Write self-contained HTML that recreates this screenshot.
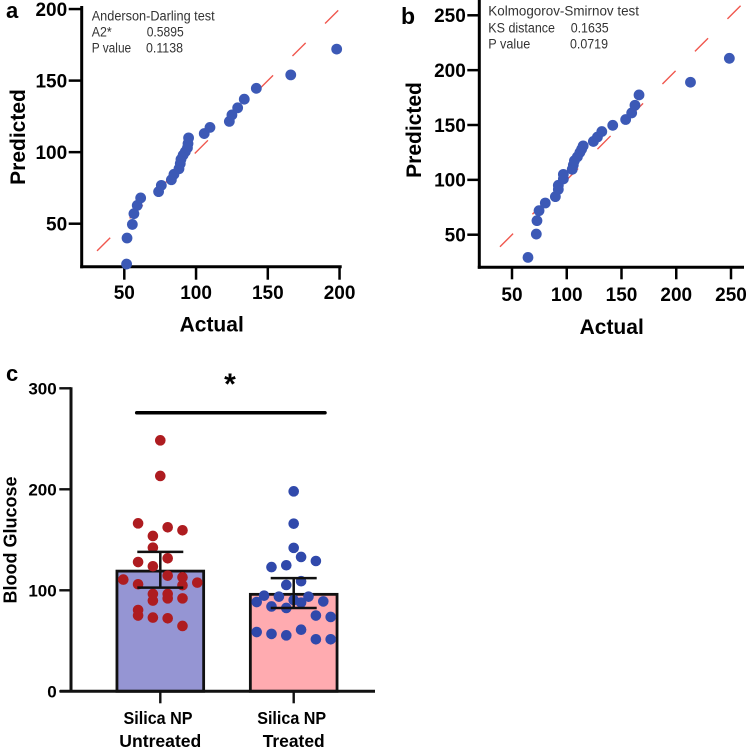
<!DOCTYPE html>
<html>
<head>
<meta charset="utf-8">
<title>Predicted vs actual plots and blood glucose bars</title>
<style>
html,body{margin:0;padding:0;background:#fff;width:749px;height:750px;overflow:hidden}
svg{display:block}
text{font-family:"Liberation Sans",sans-serif;fill:#000}
.b{font-weight:bold}
.note{font-size:13.5px;fill:#333}
</style>
</head>
<body>
<svg id="fig" xmlns="http://www.w3.org/2000/svg" width="749" height="750" viewBox="0 0 749 750">
  <text class="b" x="6" y="18" font-size="22">a</text>
  <text class="b" x="401" y="24" font-size="23">b</text>
  <text class="b" x="6" y="381" font-size="22">c</text>

  <g>
    <text class="note" x="91.7" y="20.7" textLength="123" lengthAdjust="spacingAndGlyphs">Anderson-Darling test</text>
    <text class="note" x="91.7" y="36.7" textLength="20" lengthAdjust="spacingAndGlyphs">A2*</text>
    <text class="note" x="146.7" y="36.7" textLength="37" lengthAdjust="spacingAndGlyphs">0.5895</text>
    <text class="note" x="91.7" y="52.7" textLength="39.5" lengthAdjust="spacingAndGlyphs">P value</text>
    <text class="note" x="146" y="52.7" textLength="37" lengthAdjust="spacingAndGlyphs">0.1138</text>
  </g>
  <g>
    <text class="note" x="488.3" y="15.3" textLength="150.7" lengthAdjust="spacingAndGlyphs">Kolmogorov-Smirnov test</text>
    <text class="note" x="488.3" y="32.3" textLength="66.7" lengthAdjust="spacingAndGlyphs">KS distance</text>
    <text class="note" x="570.7" y="32.3" textLength="38" lengthAdjust="spacingAndGlyphs">0.1635</text>
    <text class="note" x="488.3" y="48.7" textLength="42" lengthAdjust="spacingAndGlyphs">P value</text>
    <text class="note" x="570" y="48.7" textLength="38" lengthAdjust="spacingAndGlyphs">0.0719</text>
  </g>

  <text class="b" x="211.7" y="331.7" font-size="21" text-anchor="middle">Actual</text>
  <text class="b" transform="translate(25,137) rotate(-90)" font-size="21" text-anchor="middle">Predicted</text>
  <text class="b" x="611.7" y="334" font-size="21" text-anchor="middle">Actual</text>
  <text class="b" transform="translate(421,130) rotate(-90)" font-size="21" text-anchor="middle">Predicted</text>
  <text class="b" transform="translate(16.7,540) rotate(-90)" font-size="18" text-anchor="middle" textLength="127" lengthAdjust="spacingAndGlyphs">Blood Glucose</text>

  <text class="b" x="230" y="394" font-size="30" text-anchor="middle">*</text>
  <line x1="136.7" x2="325" y1="412.7" y2="412.7" stroke="#000" stroke-width="3.5" stroke-linecap="round"></line>

  <text class="b" x="158" y="724" font-size="17.5" text-anchor="middle" textLength="69" lengthAdjust="spacingAndGlyphs">Silica NP</text>
  <text class="b" x="160.3" y="747" font-size="17.5" text-anchor="middle" textLength="82" lengthAdjust="spacingAndGlyphs">Untreated</text>
  <text class="b" x="291.7" y="724" font-size="17.5" text-anchor="middle" textLength="69" lengthAdjust="spacingAndGlyphs">Silica NP</text>
  <text class="b" x="293.7" y="747" font-size="17.5" text-anchor="middle" textLength="62" lengthAdjust="spacingAndGlyphs">Treated</text>
</svg>
<script>
// Panel a values
var aActual = [51.6,51.9,55.6,56.7,59,61.4,73.9,75.8,82.8,84.6,88.1,89,89.5,91,92.5,94,94.4,94.8,105.7,109.7,123.2,125,129,133.6,142,166,198];
var aPredicted = [21.8,40,49.5,57,62.8,68,72.4,76.8,80.7,84.5,88.4,92,95,98,100.3,103,106,110,113,117.3,121.5,126,131,137,144.6,154,172];
var aTicks = [50,100,150,200];
var aIdentity = [31,200];
// Panel b values
var bActual = [64.6,72.2,72.8,74.7,80.4,89.6,92.3,92.3,96.9,96.9,105,106,107,109.7,112,113.6,115,124.3,128,132,142,153.8,159.3,162.3,166,213,248.5];
var bPredicted = [29.3,50.6,62.8,71.9,78.9,84.7,91.3,95,100.8,105,109.6,113.5,117.5,121,125,128,131,135,139,144,149.7,155,161,168,177.4,189,210.8];
var bTicks = [50,100,150,200,250];
var bIdentity = [39,260];
// Panel c values
var cCategories = ['Untreated','Treated'];
var cMeans = [119,96];
var cErrLow = [102.6,82.5];
var cErrHigh = [138,112];
var cTicks = [0,100,200,300];
var untreatedGlucose = [248.5,213.2,166.3,162.4,159.4,153.8,142.2,131.7,128,123.8,114.5,112.9,110.6,107.6,106,105,96.4,96.4,92,92,89.8,80.5,75,73,72.3,64.7];
var untreatedSlot = [0,0,-3,1,3,-1,-1,1,-3,-1,1,3,-5,5,-3,3,-1,1,1,3,-1,-3,-3,-1,1,3];
var treatedGlucose = [198,166,142,133,129,123,124.8,109,105.3,94.7,93.7,93.7,90.4,87.8,88.4,89,84,82.5,75,73.6,61,58.7,56.8,55.4,51.5,51.5];
var treatedSlot = [0,0,0,1,3,-3,-1,1,-1,-4,-2,2,0,1,-5,4,-3,-1,3,5,1,-5,-3,-1,3,5];

var svg = document.getElementById('fig');
var NS = 'http://www.w3.org/2000/svg';
function mk(parent, tag, props, txt) {
  var n = document.createElementNS(NS, tag);
  for (var k in props) n.setAttribute(k, props[k]);
  if (txt !== undefined) n.textContent = txt;
  parent.appendChild(n);
  return n;
}

// Axis functions
function xA(v) { return 124.3 + (v - 50) * 1.435; }
function yA(v) { return 223.7 - (v - 50) * 1.431; }
function xB(v) { return 512 + (v - 50) * 1.095; }
function yB(v) { return 234.7 - (v - 50) * 1.097; }
function yC(v) { return 691.3 - v * 1.01; }
var cCenters = [160.3, 293.7];
var cBarWidth = 86.7;
var cCapWidth = 46;
var cSlotPx = 7.4;

function scatter(id, xf, yf, xs, ys, ticks, identity, o) {
  var g = mk(svg, 'g', {});
  
  

  var line = mk(g, 'line', {x1:xf(identity[0]), y1:yf(identity[0]), x2:xf(identity[1]), y2:yf(identity[1]), stroke:'#f0584f', 'stroke-width':1.4, 'stroke-dasharray':'18.6 27.4'});
  
  

  var yAxis = mk(g, 'line', {x1:o.left, x2:o.left, y1:o.top, y2:o.bottom + 1.5, stroke:'#000', 'stroke-width':3});
  
  

  var xAxis = mk(g, 'line', {x1:o.left - 1.5, x2:o.right, y1:o.bottom, y2:o.bottom, stroke:'#000', 'stroke-width':3});
  
  

  ticks.forEach(function (t) {
    var xt = mk(g, 'line', {x1:xf(t), x2:xf(t), y1:o.bottom, y2:o.bottom + o.tickLen, stroke:'#000', 'stroke-width':2.5});
    
    

    var xl = mk(g, 'text', {x:xf(t), y:o.xLabelY, 'font-size':19, 'font-weight':'bold', 'text-anchor':'middle'}, String(t));
    
    

    var yt = mk(g, 'line', {x1:o.left - o.tickLen, x2:o.left, y1:yf(t), y2:yf(t), stroke:'#000', 'stroke-width':2.5});
    
    

    var yl = mk(g, 'text', {x:o.left - o.tickLen - 1.5, y:yf(t) + 6.8, 'font-size':19, 'font-weight':'bold', 'text-anchor':'end'}, String(t));
    
    
  });

  xs.forEach(function (v, i) {
    var c = mk(g, 'circle', {cx:xf(v), cy:yf(ys[i]), r:5.4, fill:'#3c59b6'});
    
    
  });
}

scatter('a', xA, yA, aActual, aPredicted, aTicks, aIdentity, {left:81.7, right:341.7, top:6, bottom:266.7, tickLen:13, xLabelY:299});
scatter('b', xB, yB, bActual, bPredicted, bTicks, bIdentity, {left:479.3, right:744, top:0, bottom:267.3, tickLen:12, xLabelY:301});

// Panel c
var pc = mk(svg, 'g', {});



var barFills = ['#9595d3', '#ffabb0'];
cMeans.forEach(function (m, i) {
  var cx = cCenters[i];
  var bar = mk(pc, 'rect', {x:cx - cBarWidth / 2, y:yC(m), width:cBarWidth, height:yC(0) - yC(m), fill:barFills[i], stroke:'#111', 'stroke-width':2.8});
  
  
});

untreatedGlucose.forEach(function (v, i) {
  var d = mk(pc, 'circle', {cx:cCenters[0] + untreatedSlot[i] * cSlotPx, cy:yC(v), r:5.3, fill:'#ae1c20'});
  
  
});
treatedGlucose.forEach(function (v, i) {
  var d = mk(pc, 'circle', {cx:cCenters[1] + treatedSlot[i] * cSlotPx, cy:yC(v), r:5.3, fill:'#3049ab'});
  
  
});

cMeans.forEach(function (m, i) {
  var cx = cCenters[i];
  var eb = mk(pc, 'path', {
    d:'M' + (cx - cCapWidth / 2) + ' ' + yC(cErrHigh[i]) + 'H' + (cx + cCapWidth / 2) +
      'M' + (cx - cCapWidth / 2) + ' ' + yC(cErrLow[i]) + 'H' + (cx + cCapWidth / 2) +
      'M' + cx + ' ' + yC(cErrHigh[i]) + 'V' + yC(cErrLow[i]),
    fill:'none', stroke:'#111', 'stroke-width':2.5});
  
  

  var xt = mk(pc, 'line', {x1:cx, x2:cx, y1:yC(0), y2:yC(0) + 12, stroke:'#111', 'stroke-width':2.4});
  
  
});

var cyAxis = mk(pc, 'line', {x1:71, x2:71, y1:yC(300) - 1, y2:yC(0) + 1, stroke:'#111', 'stroke-width':3});



var cxAxis = mk(pc, 'line', {x1:60, x2:375, y1:yC(0), y2:yC(0), stroke:'#111', 'stroke-width':3});



cTicks.forEach(function (t) {
  var yt = mk(pc, 'line', {x1:59.3, x2:71, y1:yC(t), y2:yC(t), stroke:'#111', 'stroke-width':2.4});
  
  

  var s = String(t);
  var yl = mk(pc, 'text', {x:56.7, y:yC(t) + 6.2, 'font-size':17, 'font-weight':'bold', 'text-anchor':'end'}, s);
  
  
});
</script>
</body>
</html>
